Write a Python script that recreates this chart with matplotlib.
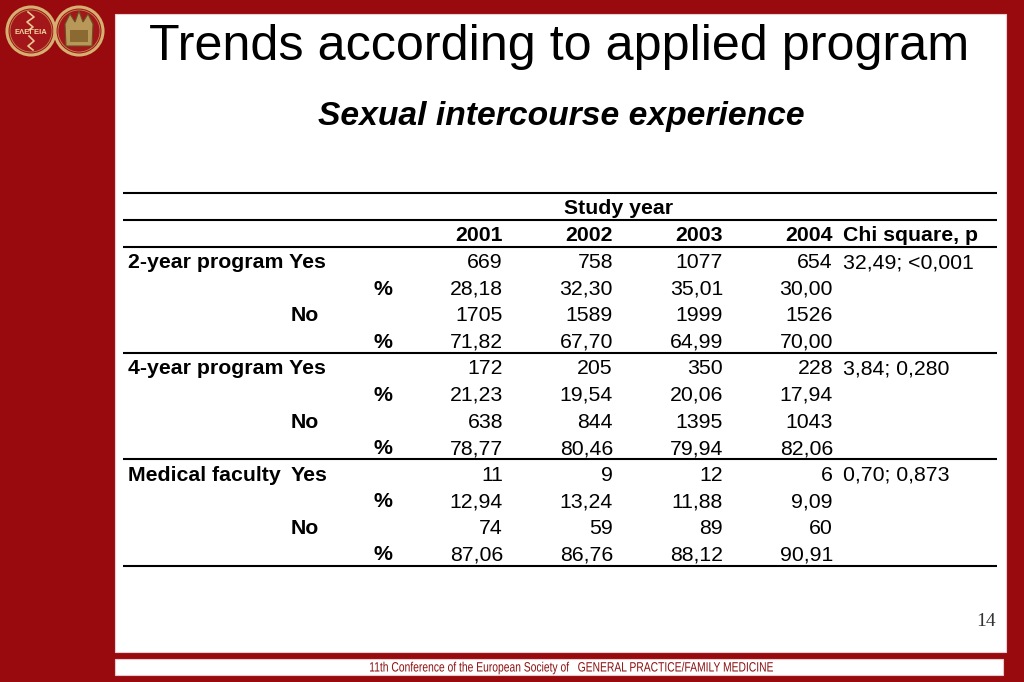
import matplotlib
matplotlib.use("Agg")
import matplotlib.pyplot as plt
from matplotlib.patches import Rectangle, Circle, Polygon, PathPatch
from matplotlib.textpath import TextPath
from matplotlib.font_manager import FontProperties
from matplotlib.transforms import Affine2D

# ─────────────────────────────────────────────
# Data
# ─────────────────────────────────────────────
years     = ["2001", "2002", "2003", "2004"]
groups    = ["2-year program", "4-year program", "Medical faculty"]
yes_n     = [[669, 758, 1077, 654], [172, 205, 350, 228], [11, 9, 12, 6]]
yes_pct   = [[28.18, 32.30, 35.01, 30.00], [21.23, 19.54, 20.06, 17.94], [12.94, 13.24, 11.88, 9.09]]
no_n      = [[1705, 1589, 1999, 1526], [638, 844, 1395, 1043], [74, 59, 89, 60]]
no_pct    = [[71.82, 67.70, 64.99, 70.00], [78.77, 80.46, 79.94, 82.06], [87.06, 86.76, 88.12, 90.91]]
chi_sq    = ["32,49; <0,001", "3,84; 0,280", "0,70; 0,873"]

TITLE     = "Trends according to applied program"
SUBTITLE  = "Sexual intercourse experience"
FOOTER    = "11th Conference of the European Society of   GENERAL PRACTICE/FAMILY MEDICINE"
PAGE      = "14"

# ─────────────────────────────────────────────
# Style
# ─────────────────────────────────────────────
BG_RED   = "#980a0e"
GOLD     = "#d6b070"
FONT     = ["Liberation Sans", "DejaVu Sans"]
FS       = 15.3
LW       = 1.5

col_right = [503, 613, 723, 833]
chi_left  = 843
row0, row_h = 261, 26.55
line_ys   = [193, 220, 247, 353, 459, 566]
tbl_l, tbl_r = 123, 997


def fmt(v):
    return f"{v:.2f}".replace(".", ",")


fig = plt.figure(figsize=(10.24, 6.82), dpi=100)
fig.patch.set_facecolor(BG_RED)
ax = fig.add_axes([0, 0, 1, 1])
ax.set_xlim(0, 1024); ax.set_ylim(682, 0)
ax.axis("off")

# panels
ax.add_patch(Rectangle((115, 14), 891, 638, facecolor="white", edgecolor="#e8d0d0", lw=0.8))
ax.add_patch(Rectangle((115, 659), 888, 16, facecolor="white", edgecolor="#e8c8c8", lw=0.8))

# logos
for cx in (31, 79):
    ax.add_patch(Circle((cx, 31), 24, facecolor="#a3161a", edgecolor=GOLD, lw=2.2))
    ax.add_patch(Circle((cx, 31), 21, facecolor="none", edgecolor="#c08850", lw=0.6))
ax.text(31, 33, "ΕΛΕΓΕΙΑ", ha="center", va="center", fontsize=5.5, color="#f0d8a0",
        family=FONT, fontweight="bold")
ax.plot([28, 34, 27, 33, 29], [12, 17, 22, 27, 30], color="#e8c890", lw=1.2)
ax.plot([29, 34, 28, 33], [36, 41, 46, 50], color="#e8c890", lw=1.2)
ax.add_patch(Polygon([[65, 24], [70, 14], [75, 22], [79, 11], [83, 22], [88, 14], [93, 24],
                      [92, 46], [66, 46]], closed=True, facecolor="#b89858", edgecolor="#6a5020", lw=0.8))
ax.add_patch(Rectangle((70, 30), 18, 12, facecolor="#8a6a30", edgecolor="none"))

# titles
ax.text(559, 47, TITLE, ha="center", va="center", fontsize=36.2, family=FONT, color="black")
ax.text(561, 117, SUBTITLE, ha="center", va="center", fontsize=24.2, family=FONT,
        fontweight="bold", fontstyle="italic", color="black")

# table lines
for y in line_ys:
    ax.plot([tbl_l, tbl_r], [y, y], color="black", lw=LW, solid_capstyle="butt")

base = 0.34 * FS * 100 / 72


def put(x, y, s, ha="right", bold=False):
    ax.text(x, y + base, s, ha=ha, va="baseline", fontsize=FS, family=FONT,
            fontweight="bold" if bold else "normal", color="black")


put(619, 207, "Study year", ha="center", bold=True)
for x, yr in zip(col_right, years):
    put(x, 234, yr, bold=True)
put(chi_left, 234, "Chi square, p", ha="left", bold=True)

for g, name in enumerate(groups):
    rows = [yes_n[g], [fmt(v) for v in yes_pct[g]], no_n[g], [fmt(v) for v in no_pct[g]]]
    for r, vals in enumerate(rows):
        y = row0 + (g * 4 + r) * row_h
        if r == 0:
            put(128, y, name + " Yes" if g < 2 else name, ha="left", bold=True)
            if g == 2:
                put(291, y, "Yes", ha="left", bold=True)
            put(chi_left, y, chi_sq[g], ha="left")
        elif r == 2:
            put(319, y, "No", bold=True)
        if r in (1, 3):
            put(383, y, "%", ha="center", bold=True)
        for x, v in zip(col_right, vals):
            put(x, y, str(v))

# page number
ax.text(986, 621, PAGE, ha="center", va="center", fontsize=14, family=["Liberation Serif", "DejaVu Serif"],
        color="#333333")

# footer: condensed text drawn as a horizontally squeezed text path
tp = TextPath((0, 0), FOOTER, size=13.5, prop=FontProperties(family="Liberation Sans"))
ext = tp.get_extents()
sx = 403 / ext.width
tr = Affine2D().translate(-ext.x0, 0).scale(sx, -1).translate(370, 671.5)
ax.add_patch(PathPatch(tr.transform_path(tp), facecolor="#8b1010", edgecolor="none"))

fig.savefig("out.png", dpi=100, facecolor=fig.get_facecolor())
